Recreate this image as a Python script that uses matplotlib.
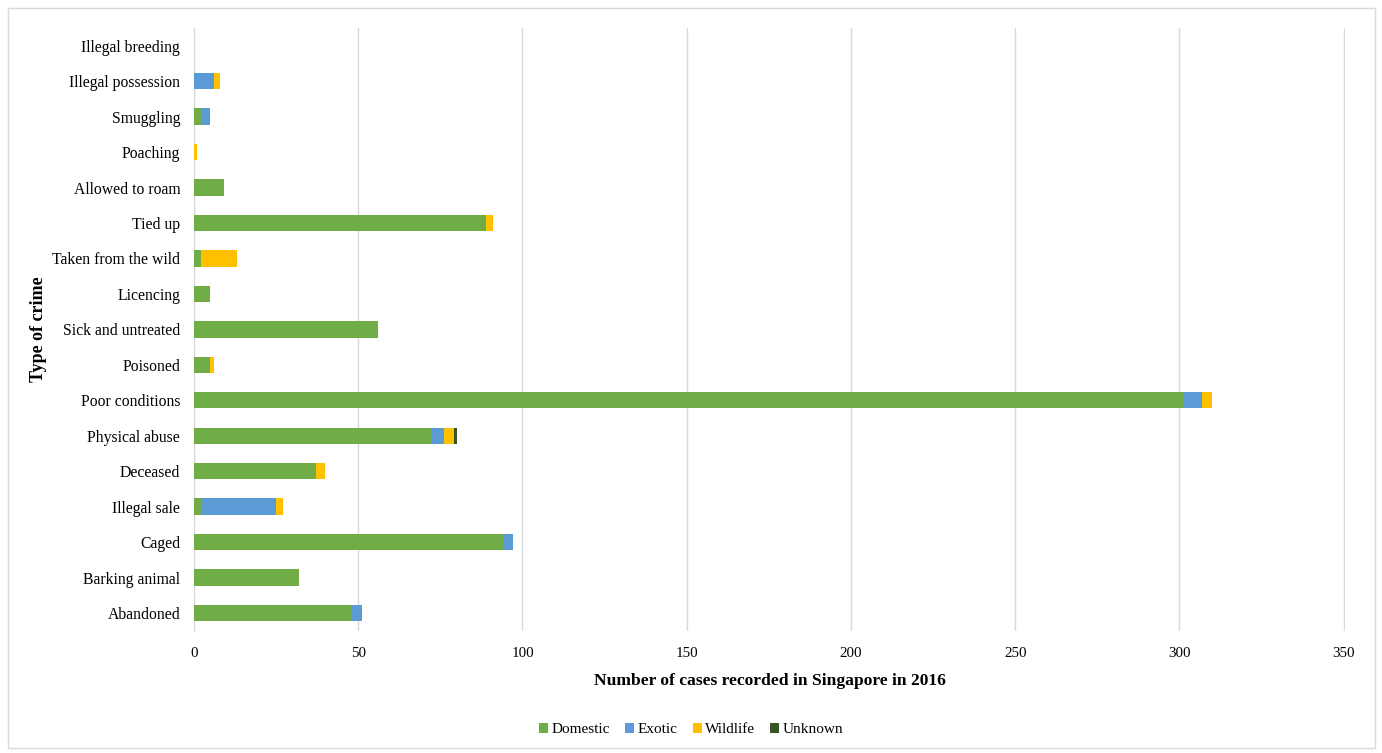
import numpy as np
import matplotlib.pyplot as plt
from matplotlib.patches import Rectangle

# categories bottom -> top, as drawn
crimes = [
    "Abandoned", "Barking animal", "Caged", "Illegal sale", "Deceased",
    "Physical abuse", "Poor conditions", "Poisoned", "Sick and untreated",
    "Licencing", "Taken from the wild", "Tied up", "Allowed to roam",
    "Poaching", "Smuggling", "Illegal possession", "Illegal breeding",
]
domestic = [48, 32, 94, 2, 37, 72, 301, 5, 56, 5, 2, 89, 9, 0, 2, 0, 0]
exotic = [3, 0, 3, 23, 0, 4, 6, 0, 0, 0, 0, 0, 0, 0, 3, 6, 0]
wildlife = [0, 0, 0, 2, 3, 3, 3, 1, 0, 0, 11, 2, 0, 1, 0, 2, 0]
unknown = [0, 0, 0, 0, 0, 1, 0, 0, 0, 0, 0, 0, 0, 0, 0, 0, 0]

series = [
    ("Domestic", domestic, "#70AD47"),
    ("Exotic", exotic, "#5B9BD5"),
    ("Wildlife", wildlife, "#FFC000"),
    ("Unknown", unknown, "#375623"),
]

plt.rcParams["font.family"] = ["Liberation Serif", "DejaVu Serif"]

fig = plt.figure(figsize=(13.82, 7.53), dpi=100)
ax = fig.add_axes([0.1404, 0.1624, 0.8328, 0.8004])

# light frame around the chart
fig.patches.append(Rectangle((0.006, 0.006), 0.989, 0.984, transform=fig.transFigure,
                             fill=False, edgecolor="#D9D9D9", linewidth=1))

y = np.arange(len(crimes))
left = np.zeros(len(crimes))
for name, vals, color in series:
    ax.barh(y, vals, left=left, height=0.46, color=color, label=name, zorder=3)
    left += np.array(vals)

ax.set_xlim(0, 350.4)
ax.set_ylim(-0.5, len(crimes) - 0.5)
ax.set_xticks(np.arange(0, 351, 50))
ax.set_yticks(y)
ax.set_yticklabels(crimes)
ax.tick_params(axis="both", length=0)
ax.tick_params(axis="x", labelsize=10.8, pad=12)
ax.tick_params(axis="y", labelsize=11.3, pad=10)
ax.grid(axis="x", color="#D9D9D9", linewidth=1, zorder=0)

for side in ["top", "right", "bottom"]:
    ax.spines[side].set_visible(False)
ax.spines["left"].set_color("#D9D9D9")

ax.set_xlabel("Number of cases recorded in Singapore in 2016", fontsize=12.6,
              fontweight="bold", labelpad=9)
ax.set_ylabel("Type of crime", fontsize=13, fontweight="bold")
ax.yaxis.set_label_coords(-0.128, 0.5)

fig.legend(loc="center", bbox_to_anchor=(0.5, 0.031), ncol=4, frameon=False,
           fontsize=11, handlelength=0.6, handleheight=0.6, handletextpad=0.2,
           columnspacing=1.0)

fig.savefig("out.png", dpi=100)
